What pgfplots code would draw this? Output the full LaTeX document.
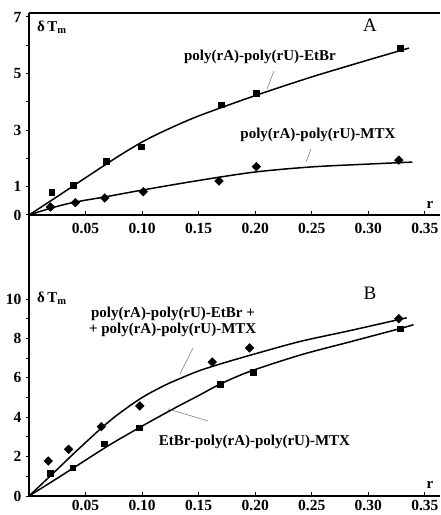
\documentclass[border=0pt]{standalone}
\usepackage{pgfplots}
\pgfplotsset{compat=1.18}
\usepackage{pgfplotstable}
\usepackage{fontspec}
\setmainfont{Liberation Serif}

% Panel A data
\pgfplotstableread{
x y
0.020 0.80
0.039 1.05
0.068 1.90
0.099 2.42
0.170 3.90
0.201 4.31
0.328 5.90
}\etbrPts
\pgfplotstableread{
x y
0.000 0.00
0.020 0.52
0.040 1.05
0.060 1.58
0.080 2.10
0.100 2.58
0.120 2.98
0.150 3.50
0.200 4.22
0.250 4.88
0.300 5.48
0.336 5.90
}\etbrFit
\pgfplotstableread{
x y
0.019 0.28
0.041 0.44
0.067 0.60
0.101 0.82
0.168 1.20
0.201 1.71
0.327 1.94
}\mtxPts
\pgfplotstableread{
x y
0.000 0.00
0.020 0.25
0.040 0.45
0.070 0.66
0.100 0.88
0.150 1.22
0.200 1.52
0.250 1.70
0.300 1.80
0.339 1.87
}\mtxFit
% Panel B data
\pgfplotstableread{
x y
0.017 1.78
0.035 2.37
0.064 3.52
0.098 4.57
0.162 6.80
0.195 7.52
0.327 9.00
}\sumPts
\pgfplotstableread{
x y
0.000 0.00
0.020 1.08
0.040 2.18
0.065 3.50
0.080 4.20
0.100 5.00
0.120 5.62
0.135 6.00
0.150 6.35
0.170 6.72
0.200 7.22
0.240 7.85
0.284 8.40
0.334 9.05
}\sumFit
\pgfplotstableread{
x y
0.0186 1.15
0.0387 1.44
0.0667 2.66
0.0976 3.47
0.169 5.69
0.198 6.30
0.328 8.50
}\triPts
\pgfplotstableread{
x y
0.000 0.00
0.020 0.72
0.040 1.45
0.070 2.55
0.100 3.55
0.130 4.50
0.150 5.10
0.169 5.68
0.195 6.32
0.240 7.16
0.284 7.83
0.328 8.50
0.340 8.70
}\triFit

\pgfplotsset{
  panel/.style={
    scale only axis, width=411pt,
    xmin=0, xmax=0.3634, ymin=0,
    axis x line=bottom, axis y line=left,
    axis line style={-, line width=1.3pt},
    tick align=inside, major tick length=4pt,
    tick style={line width=1pt, black},
    every major y tick/.append style={xshift=-2.5pt},
    xtick={0.05,0.10,0.15,0.20,0.25,0.30,0.35},
    xticklabels={0.05,0.10,0.15,0.20,0.25,0.30,0.35},
    ticklabel style={font=\fontsize{15.5}{16}\selectfont\bfseries},
    yticklabel style={xshift=-4pt},
    clip=false,
  },
  pts/.style={only marks, black, mark options={fill=black}},
  dia/.style={pts, mark=square*, mark size=3.1pt, mark options={rotate=45, fill=black}},
  sq/.style={pts, mark=square*, mark size=2.8pt},
  fit/.style={black, line width=1.5pt, smooth, no marks},
}
\tikzset{
  lead/.style={gray, line width=0.6pt},
  lab/.style={font=\fontsize{15}{16}\selectfont\bfseries, inner sep=0pt},
}

\begin{document}
\begin{tikzpicture}
\useasboundingbox (0,0) rectangle (440pt,515pt);
% Panel A
\begin{axis}[panel, at={(29pt,300pt)}, anchor=south west,
  height=202pt, ymax=7.14, xticklabel style={yshift=-5pt},
  ytick={0,1,2,3,4,5,6,7}, yticklabels={0,1,,3,,5,,7}]
\addplot[fit] table {\etbrFit};
\addplot[fit] table {\mtxFit};
\addplot[sq] table {\etbrPts};
\addplot[dia] table {\mtxPts};
\draw[line width=1.3pt] (rel axis cs:0,1) -- (rel axis cs:1,1);
\node[lab] at (axis cs:0.2042,5.58) {poly(rA)-poly(rU)-EtBr};
\draw[lead] (axis cs:0.2166,5.09) -- (axis cs:0.2104,4.45);
\node[lab] at (axis cs:0.2555,2.83) {poly(rA)-poly(rU)-MTX};
\draw[lead] (axis cs:0.2493,2.33) -- (axis cs:0.2449,1.87);
\node[font=\fontsize{19}{20}\selectfont, inner sep=0pt] at (axis cs:0.3015,6.71) {A};
\node[lab] at (axis cs:0.0203,6.64) {δ\,T\textsubscript{m}};
\node[lab] at (axis cs:0.3546,0.35) {r};
\end{axis}
% Panel B
\begin{axis}[panel, at={(29pt,19pt)}, anchor=south west,
  height=245pt, ymax=12.44, xticklabel style={yshift=-1pt},
  ytick={0,1,2,3,4,5,6,7,8,9,10}, yticklabels={0,,2,,4,,6,,8,,10}]
\addplot[fit] table {\sumFit};
\addplot[fit] table {\triFit};
\addplot[dia] table {\sumPts};
\addplot[sq] table {\triPts};
\node[lab] at (axis cs:0.1273,9.24) {poly(rA)-poly(rU)-EtBr +};
\node[lab] at (axis cs:0.1270,8.43) {+ poly(rA)-poly(rU)-MTX};
\draw[lead] (axis cs:0.145,7.51) -- (axis cs:0.1335,6.19);
\node[lab] at (axis cs:0.1994,2.74) {EtBr-poly(rA)-poly(rU)-MTX};
\draw[lead] (axis cs:0.1583,3.81) -- (axis cs:0.1229,4.42);
\node[font=\fontsize{19}{20}\selectfont, inner sep=0pt] at (axis cs:0.3015,10.3) {B};
\node[lab] at (axis cs:0.0203,10.05) {δ\,T\textsubscript{m}};
\node[lab] at (axis cs:0.3546,0.56) {r};
\end{axis}
\draw[line width=1.3pt] (29pt,502pt) -- (29pt,19pt);
\end{tikzpicture}
\end{document}
